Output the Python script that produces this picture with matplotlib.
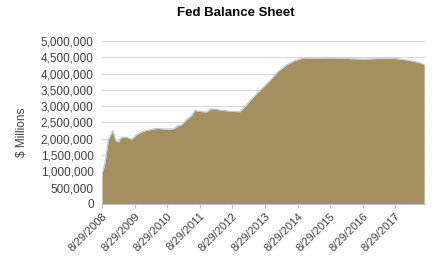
import pandas as pd
import matplotlib
matplotlib.use('Agg')
import matplotlib.pyplot as plt
from matplotlib.ticker import FuncFormatter

plt.rcParams['font.family'] = ['Liberation Sans', 'DejaVu Sans']

# Fed balance sheet, $ millions
dates = ['2008-08-29', '2008-10-02', '2008-11-08', '2008-12-27', '2009-01-30',
         '2009-02-28', '2009-04-06', '2009-06-01', '2009-07-27', '2009-09-21',
         '2009-12-05', '2010-02-18', '2010-05-03', '2010-08-04', '2010-11-05',
         '2010-12-31', '2011-02-08', '2011-04-04', '2011-05-30', '2011-07-06',
         '2011-08-31', '2011-11-14', '2011-12-29', '2012-03-05', '2012-04-30',
         '2012-06-25', '2012-08-01', '2012-11-21', '2013-01-17', '2013-04-20',
         '2013-07-23', '2013-10-24', '2014-01-25', '2014-04-29', '2014-07-30',
         '2014-10-31', '2015-03-30', '2015-08-27', '2016-01-23', '2016-09-03',
         '2017-02-01', '2017-09-12', '2017-11-25', '2018-02-28', '2018-05-31',
         '2018-07-18']
values = [920000, 1260000, 1970000, 2250000, 1950000,
          1900000, 2050000, 2050000, 1980000, 2130000,
          2230000, 2280000, 2320000, 2300000, 2300000,
          2400000, 2430000, 2590000, 2710000, 2870000,
          2840000, 2820000, 2920000, 2910000, 2870000,
          2860000, 2840000, 2830000, 2990000, 3280000,
          3530000, 3790000, 4070000, 4270000, 4400000,
          4480000, 4470000, 4480000, 4470000, 4440000,
          4460000, 4460000, 4430000, 4390000, 4330000,
          4270000]
tick_dates = ['2008-08-29', '2009-08-29', '2010-08-29', '2011-08-29', '2012-08-29',
              '2013-08-29', '2014-08-29', '2015-08-29', '2016-08-29', '2017-08-29']

x = pd.to_datetime(dates)
ticks = pd.to_datetime(tick_dates)

fig = plt.figure(figsize=(4.33, 2.61), dpi=100)
ax = fig.add_axes([0.2356, 0.2184, 0.746, 0.6246])

ax.fill_between(x, values, 0, color='#a38f5f', linewidth=0)
ax.plot(x, values, color='#b8c8e0', linewidth=0.8)

ax.set_xlim(x[0], x[-1] + pd.Timedelta(days=10))
ax.set_ylim(0, 5000000)
ax.set_yticks(range(0, 5000001, 500000))
ax.yaxis.set_major_formatter(FuncFormatter(lambda v, p: f'{int(v):,}'))
ax.grid(axis='y', color='#d9d9d9', linewidth=0.8)
ax.set_axisbelow(True)

ax.set_xticks(ticks)
ax.set_xticklabels([d.strftime('%-m/%-d/%Y') for d in ticks], rotation=45,
                   ha='right', rotation_mode='anchor', fontsize=8, color='#404040')
ax.tick_params(axis='x', length=3, color='#bfbfbf', pad=2)
ax.tick_params(axis='y', length=0, labelsize=8.5, labelcolor='#404040', pad=6)

for s in ['top', 'right', 'left']:
    ax.spines[s].set_visible(False)
ax.spines['bottom'].set_color('#bfbfbf')

ax.set_ylabel('$ Millions', fontsize=8.5, color='#404040', labelpad=9.5, y=0.44)
fig.text(0.545, 0.952, 'Fed Balance Sheet', ha='center', va='center',
         fontsize=9.5, fontweight='bold', color='#000000')

plt.savefig('out.png', dpi=100)
